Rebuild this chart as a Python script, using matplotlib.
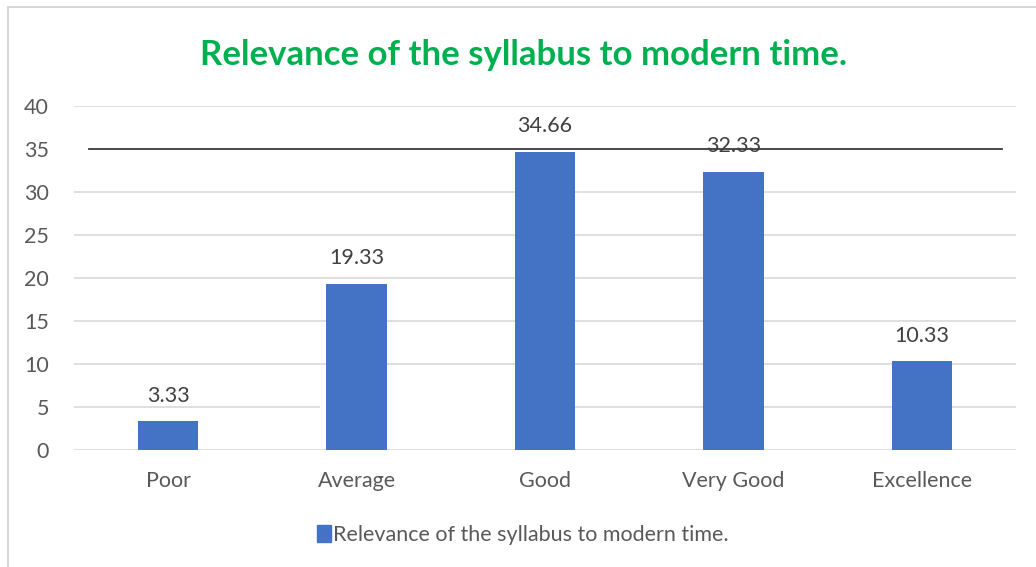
import matplotlib
matplotlib.use("Agg")
import matplotlib.pyplot as plt
from matplotlib.patches import Rectangle, Patch

categories = ["Poor", "Average", "Good", "Very Good", "Excellence"]
values = [3.33, 19.33, 34.66, 32.33, 10.33]
value_labels = ["3.33", "19.33", "34.66", "32.33", "10.33"]
yticks = [0, 5, 10, 15, 20, 25, 30, 35, 40]
series_name = "Relevance of the syllabus to modern time."
title = "Relevance of the syllabus to modern time."
ref_line = 35

plt.rcParams['font.family'] = ['Lato', 'DejaVu Sans']

bar_color = "#4472C4"
grid_color = "#d9d9d9"
text_color = "#595959"

fig = plt.figure(figsize=(10.36, 5.67), dpi=100)
ax = fig.add_axes([0.0714, 0.2063, 0.9093, 0.6068])

# gridlines (the one at 5 has a gap in the original)
for y in yticks:
    if y == ref_line:
        continue
    if y == 5:
        ax.axhline(y, 0, 0.26, color=grid_color, lw=1.2, zorder=0)
        ax.axhline(y, 0.469, 1, color=grid_color, lw=1.2, zorder=0)
    else:
        ax.axhline(y, color=grid_color, lw=1.2, zorder=0)
ax.axhline(ref_line, 0.016, 0.985, color="#3a3a3a", lw=1.3, zorder=3)

x = range(len(categories))
bars = ax.bar(x, values, width=0.32, color=bar_color, zorder=2, label=series_name)
for xi, v, lab in zip(x, values, value_labels):
    ax.text(xi, v + 1.8, lab, ha="center", va="bottom", fontsize=15.5, color="#404040")

ax.set_xlim(-0.5, len(categories) - 0.5)
ax.set_ylim(0, 40)
ax.set_yticks(yticks)
ax.set_xticks(list(x))
ax.set_xticklabels(categories)
ax.tick_params(axis="both", length=0, labelsize=15.5, labelcolor=text_color)
ax.tick_params(axis="x", pad=15)
ax.tick_params(axis="y", pad=18)
for s in ax.spines.values():
    s.set_visible(False)

fig.text(0.505, 0.903, title, ha="center", va="center", fontsize=25,
         fontweight="bold", color="#00B050")

leg = fig.legend(handles=[Patch(color=bar_color, label=series_name)],
                 loc="center", bbox_to_anchor=(0.505, 0.057), frameon=False,
                 fontsize=15.5, handlelength=0.65, handleheight=0.9, handletextpad=0.1,
                 labelcolor=text_color)

# chart frame
fig.patches.append(Rectangle((8 / 1036, -0.1), 1.2, 1.1 - 7 / 567, transform=fig.transFigure,
                             fill=False, edgecolor="#d0d0d0", lw=1.2))

fig.savefig("out.png", dpi=100)
